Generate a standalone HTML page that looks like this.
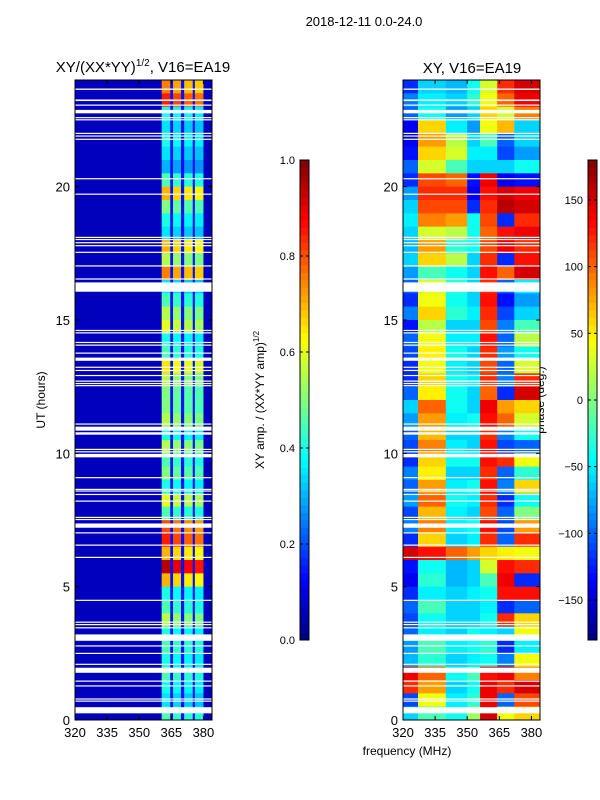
<!DOCTYPE html>
<html><head><meta charset="utf-8">
<style>
html,body{margin:0;padding:0;background:#fff;}
svg{display:block;font-family:"Liberation Sans",sans-serif;}
</style></head>
<body>
<svg id="fig" width="600" height="800" viewBox="0 0 600 800" xmlns="http://www.w3.org/2000/svg">
<text x="364" y="26" font-size="13" text-anchor="middle">2018-12-11 0.0-24.0</text>
<text x="143" y="72" font-size="15" text-anchor="middle">XY/(XX*YY)<tspan font-size="10" dy="-6">1/2</tspan><tspan dy="6">, V16=EA19</tspan></text>
<text x="472" y="73" font-size="15" text-anchor="middle">XY, V16=EA19</text>
<text x="407" y="755" font-size="12" text-anchor="middle">frequency (MHz)</text>
<text x="45" y="400" font-size="12" text-anchor="middle" transform="rotate(-90 45 400)">UT (hours)</text>
<text x="264" y="400" font-size="12" text-anchor="middle" transform="rotate(-90 264 400)">XY amp. / (XX*YY amp)<tspan font-size="8" dy="-5">1/2</tspan></text>
<text x="544" y="400" font-size="12" text-anchor="middle" transform="rotate(-90 544 400)">phase (deg.)</text>
<g id="left"></g><g id="right"></g><g id="cb1"></g><g id="cb2"></g>
</svg>
<script>
// ---- data ----
const freqMin = 320, freqMax = 384, tMin = 0, tMax = 24;
const xTicks = [320, 335, 350, 365, 380];
const yTicks = [0, 5, 10, 15, 20];
// white (flagged) time intervals [start,end] in hours
const gaps = [[23.63,23.68],[23.21,23.27],[23.04,23.08],[22.75,22.88],[22.58,22.61],[22.5,22.53],[21.98,22.02],[21.88,21.92],[21.76,21.8],[20.28,20.32],[19.7,19.74],[18.08,18.12],[18.0,18.04],[17.88,17.92],[17.77,17.81],[17.52,17.56],[17.01,17.05],[16.52,16.56],[16.06,16.41],[14.59,14.63],[14.5,14.54],[14.14,14.18],[14.04,14.08],[13.74,13.78],[13.47,13.59],[13.21,13.25],[13.09,13.13],[12.9,12.94],[12.69,12.73],[12.6,12.64],[12.52,12.56],[11.08,11.12],[10.85,11.0],[10.7,10.79],[10.13,10.17],[10.04,10.08],[9.85,9.98],[9.07,9.11],[8.63,8.67],[8.57,8.61],[8.44,8.48],[8.19,8.23],[7.58,7.62],[7.5,7.54],[7.21,7.37],[7.0,7.04],[6.54,6.58],[6.08,6.12],[4.47,4.51],[3.65,3.69],[3.56,3.6],[3.44,3.48],[2.97,3.21],[2.76,2.8],[2.48,2.52],[2.07,2.11],[1.77,1.96],[1.44,1.48],[1.26,1.3],[0.77,0.81],[0.69,0.73],[0.25,0.48]];
// left panel: frequency bands of the bright columns
const ampBandLo = [360.5, 365.8, 371, 376];
const ampBandHi = [364.5, 369.5, 375, 380];
const ampBandGain = [1.0, 0.95, 0.92, 0.9];
const ampBackground = 0.06, ampDark = 0.14;
// amplitude per 0.5h row, row k covers 24-0.5(k+1) .. 24-0.5k
const rowAmp = [0.75,0.85,0.4,0.35,0.4,0.35,0.3,0.45,0.7,0.5,0.4,0.35,0.7,0.55,0.75,0.35,0.45,0.55,0.6,0.4,0.45,0.65,0.55,0.5,0.5,0.55,0.4,0.55,0.45,0.5,0.4,0.6,0.45,0.8,0.85,0.7,0.95,0.7,0.4,0.45,0.55,0.4,0.45,0.4,0.45,0.4,0.35,0.45];
// right panel: frequency bins and phase per 0.5h row (same row order)
const phaseBinEdges = [320, 327, 340, 350, 356, 364, 372, 384];
const phase = [
[-120,-60,-70,-40,30,120,150],[-90,-50,-60,-30,40,100,140],[-100,-40,-80,-60,60,30,90],[-140,60,-50,-80,40,70,-60],
[-140,80,20,-60,-20,-100,-60],[-130,60,30,-50,-50,-110,-80],[-100,30,-20,-60,-60,-60,-40],[-120,110,100,-130,140,-140,-130],
[-80,120,120,-140,130,150,140],[-60,110,110,-120,120,160,150],[-50,90,80,-40,110,-120,120],[-60,30,20,-40,100,130,140],
[-70,80,-30,-40,110,140,120],[-60,60,20,-60,120,-120,130],[-80,-20,-40,-60,130,100,150],[-100,30,-30,-60,120,-100,-50],
[-120,40,-40,-60,130,-130,-80],[-90,60,-30,-50,120,-110,-60],[-130,20,-60,-60,110,-90,-20],[-100,40,-50,-50,130,-100,20],
[-110,50,-40,-60,120,-80,-40],[-120,40,-50,-60,110,-100,30],[-120,60,-40,-50,120,-90,120],[-100,50,-40,-60,100,-120,150],
[-60,100,-40,-60,140,80,60],[-80,80,-50,-40,130,100,30],[-100,70,-60,-60,120,-90,-40],[-110,90,-50,-60,130,-110,-100],
[-120,60,-40,-40,130,120,40],[-90,50,-60,-60,120,-100,-30],[-100,80,-50,-40,130,-90,60],[-80,100,-40,-50,120,-120,-40],
[-110,70,-50,-60,110,-100,0],[-90,90,-50,-40,130,-110,80],[-120,60,-60,-50,120,-100,120],[150,130,100,80,60,50,40],
[-130,-40,-70,-60,30,130,120],[-140,-30,-70,-60,-20,140,-120],[-120,-50,-60,-50,-40,130,130],[-100,-20,-60,-60,-50,-120,-100],
[-110,-40,-60,-60,-40,120,60],[-100,-50,-60,-40,-50,-60,40],[-80,-20,-50,-40,-30,-120,-50],[-70,-30,-60,-50,-40,-90,40],
[140,100,-40,-20,130,140,90],[120,80,-60,-40,140,120,150],[-110,40,-50,-30,140,-100,110],[-60,-20,-40,10,150,40,60]];
const ampCbTicks = [0.0, 0.2, 0.4, 0.6, 0.8, 1.0];
const phaseCbTicks = [-150, -100, -50, 0, 50, 100, 150];

// ---- helpers ----
const NS = "http://www.w3.org/2000/svg";
function jet(v){v=Math.max(0,Math.min(1,v));
  const r=Math.max(0,Math.min(1,1.5-Math.abs(4*v-3))),g=Math.max(0,Math.min(1,1.5-Math.abs(4*v-2))),b=Math.max(0,Math.min(1,1.5-Math.abs(4*v-1)));
  return `rgb(${Math.round(r*255)},${Math.round(g*255)},${Math.round(b*255)})`;}
function mk(tag,attrs,parent){const e=document.createElementNS(NS,tag);for(const k in attrs)e.setAttribute(k,attrs[k]);parent.appendChild(e);return e;}
const PT = 80, PB = 720;
const yScale = t => PB - (t - tMin) / (tMax - tMin) * (PB - PT);
function xScaleFor(x0){return f => x0 + (f - freqMin) / (freqMax - freqMin) * 137;}

function drawPanel(g, x0, fillCells, name){
  const xs = xScaleFor(x0);
  fillCells(xs);
  gaps.forEach(gp=>{
    const r = mk('rect',{x:x0,y:yScale(gp[1]),width:137,height:Math.max(1.2,yScale(gp[0])-yScale(gp[1])),fill:'#fff'},g);
    
    
  });
  const fr = mk('rect',{x:x0,y:PT,width:137,height:PB-PT,fill:'none',stroke:'#000','stroke-width':1},g);
  
  
  xTicks.forEach(f=>{
    const x = xs(f);
    mk('line',{x1:x,x2:x,y1:PB,y2:PB-4,stroke:'#000'},g);
    mk('line',{x1:x,x2:x,y1:PT,y2:PT+4,stroke:'#000'},g);
    const t = mk('text',{x:x,y:PB+17,'font-size':13,'text-anchor':'middle'},g);
    t.textContent = f;
    
    
  });
  yTicks.forEach(v=>{
    const y = yScale(v);
    mk('line',{x1:x0,x2:x0+4,y1:y,y2:y,stroke:'#000'},g);
    mk('line',{x1:x0+137,x2:x0+133,y1:y,y2:y,stroke:'#000'},g);
    const t = mk('text',{x:x0-5,y:y+5,'font-size':13,'text-anchor':'end'},g);
    t.textContent = v;
    
    
  });
}

// left amplitude panel
const gl = document.getElementById('left');

drawPanel(gl, 75, xs=>{
  const bg = mk('rect',{x:75,y:PT,width:137,height:PB-PT,fill:jet(ampBackground)},gl);
  
  
  const dk = mk('rect',{x:xs(ampBandLo[0]),y:PT,width:xs(ampBandHi[3])-xs(ampBandLo[0]),height:PB-PT,fill:jet(ampDark)},gl);
  
  
  rowAmp.forEach((a,k)=>{
    const tHi = tMax - 0.5*k, tLo = tHi - 0.5;
    ampBandLo.forEach((lo,j)=>{
      const c = mk('rect',{x:xs(lo),y:yScale(tHi),width:xs(ampBandHi[j])-xs(lo),height:yScale(tLo)-yScale(tHi)+0.3,fill:jet(a*ampBandGain[j])},gl);
      
      
    });
  });
}, 'amplitude-panel');

// right phase panel
const gr = document.getElementById('right');

drawPanel(gr, 403, xs=>{
  phase.forEach((row,k)=>{
    const tHi = tMax - 0.5*k, tLo = tHi - 0.5;
    row.forEach((p,j)=>{
      const c = mk('rect',{x:xs(phaseBinEdges[j]),y:yScale(tHi),width:xs(phaseBinEdges[j+1])-xs(phaseBinEdges[j])+0.3,height:yScale(tLo)-yScale(tHi)+0.3,fill:jet((p+180)/360)},gr);
      
      
    });
  });
}, 'phase-panel');

// colorbars
function colorbar(g, x, lo, hi, ticks, fmt, name){
  
  const n = 64;
  for(let i=0;i<n;i++){
    const y0 = 640 - (i+1)*480/n;
    mk('rect',{x:x,y:y0,width:9,height:480/n+0.4,fill:jet((i+0.5)/n)},g);
  }
  mk('rect',{x:x,y:160,width:9,height:480,fill:'none',stroke:'#000'},g);
  ticks.forEach(v=>{
    const y = 640 - (v-lo)/(hi-lo)*480;
    mk('line',{x1:x,x2:x+3,y1:y,y2:y,stroke:'#000'},g);
    mk('line',{x1:x+9,x2:x+6,y1:y,y2:y,stroke:'#000'},g);
    const t = mk('text',{x:x-5,y:y+4,'font-size':11,'text-anchor':'end'},g);
    t.textContent = fmt(v);
    
    
  });
}
colorbar(document.getElementById('cb1'), 300, 0, 1, ampCbTicks, v=>v.toFixed(1), 'amplitude-colorbar');
colorbar(document.getElementById('cb2'), 588, -180, 180, phaseCbTicks, v=>(v<0?'\u2212'+(-v):''+v), 'phase-colorbar');
</script>
</body></html>
